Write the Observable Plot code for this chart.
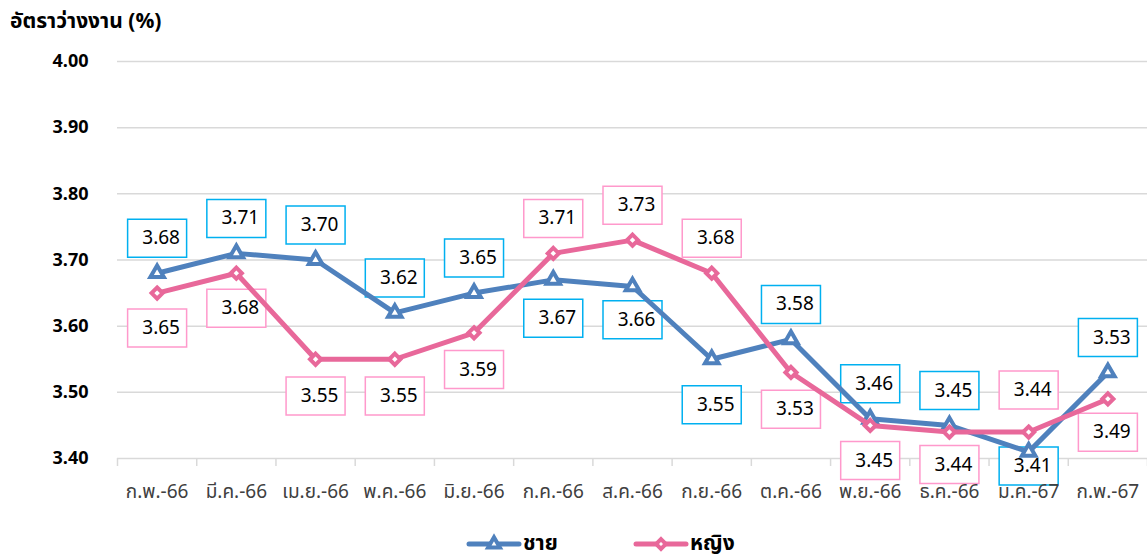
<!DOCTYPE html>
<html>
<head>
<meta charset="utf-8">
<script src="https://cdn.jsdelivr.net/npm/d3@7"></script>
<script src="https://cdn.jsdelivr.net/npm/@observablehq/plot@0.6"></script>
<style>
  body { margin: 0; background: #fff; font-family: Tahoma, "Noto Sans Thai", "DejaVu Sans", sans-serif; }
  #wrap { position: relative; width: 1147px; height: 558px; overflow: hidden; }
  #title { position: absolute; left: 10px; top: 6px; font-size: 21px; font-weight: bold; color: #000; }
  #chart { position: absolute; left: 0; top: 0; }
  #legend { position: absolute; top: 532px; left: 0; width: 1147px; height: 26px; font-weight: bold; font-size: 21px; line-height: 24px; color: #000; }
  .item { position: absolute; top: 0; display: flex; align-items: center; gap: 1px; }
</style>
</head>
<body>
<div id="wrap">
  <div id="chart"></div>
  <div id="title">อัตราว่างงาน (%)</div>
  <div id="legend"></div>
</div>
<script>
const months = ["ก.พ.-66","มี.ค.-66","เม.ย.-66","พ.ค.-66","มิ.ย.-66","ก.ค.-66","ส.ค.-66","ก.ย.-66","ต.ค.-66","พ.ย.-66","ธ.ค.-66","ม.ค.-67","ก.พ.-67"];
const male   = [3.68, 3.71, 3.70, 3.62, 3.65, 3.67, 3.66, 3.55, 3.58, 3.46, 3.45, 3.41, 3.53];
const female = [3.65, 3.68, 3.55, 3.55, 3.59, 3.71, 3.73, 3.68, 3.53, 3.45, 3.44, 3.44, 3.49];
// label placement relative to the point: positive = above, negative = below
const maleSide   = [1, 1, 1, 1, 1, -1.1, -0.95, -1.3, 1, 1, 1, -0.4, 1];
const femaleSide = [-1, -1, -1.05, -1.05, -1.05, 1, 1, 1, -1.05, -1, -0.93, 1.2, -0.95];
const yTicks = [3.4, 3.5, 3.6, 3.7, 3.8, 3.9, 4.0];
const seriesNames = ["ชาย", "หญิง"];

const blue = "#4F81BD", pink = "#E8689A";
const blueBox = "#00B0F0", pinkBox = "#FF99CC";

const mData = months.map((m, i) => ({i, month: m, v: male[i], side: maleSide[i]}));
const fData = months.map((m, i) => ({i, month: m, v: female[i], side: femaleSide[i]}));
const idx = months.map((m, i) => i);
const bounds = months.map((m, i) => i - 0.5).concat([months.length - 0.5]);

const box = {draw(ctx) { ctx.rect(-29.5, -19, 59, 38); }};
const off = 35;

function shift(data, sel) {
  return function(index, scales, values, dims, ctx, next) {
    const g = next(index, scales, values, dims, ctx);
    d3.select(g).selectAll(sel).each(function(_, k) {
      const d = data[index[k]];
      const t = d3.select(this).attr("transform") || "";
      d3.select(this).attr("transform", t + ` translate(0,${-d.side * off})`);
    });
    return g;
  };
}

function labelBoxes(data, color) {
  return Plot.dot(data, {x: "i", y: "v", symbol: box, r: 5, fill: "white", stroke: color, strokeWidth: 1.5,
    render: shift(data, "path")});
}
function labelTexts(data) {
  return Plot.text(data, {x: "i", y: "v", text: d => d.v.toFixed(2), fontSize: 19, fill: "#000",
    dx: 4, render: shift(data, "text")});
}

const chart = Plot.plot({
  width: 1147,
  height: 510,
  marginLeft: 117,
  marginRight: 0,
  marginTop: 61,
  marginBottom: 52,
  style: {fontFamily: 'Tahoma, "Noto Sans Thai", "DejaVu Sans", sans-serif', background: "transparent"},
  x: {type: "linear", domain: [-0.5, months.length - 0.5]},
  y: {domain: [3.4, 4.0]},
  marks: [
    Plot.ruleY(yTicks, {stroke: "#D9D9D9", strokeWidth: 1.5}),
    Plot.ruleX(bounds, {x: d => d, y1: 3.4, y2: 3.4, insetBottom: -8, stroke: "#D9D9D9", strokeWidth: 1.5}),
    Plot.axisY({ticks: yTicks, tickFormat: ".2f", tickSize: 0, tickPadding: 29, fontSize: 18, fontWeight: "bold", fill: "#000", label: null}),
    labelBoxes(mData, blueBox),
    labelBoxes(fData, pinkBox),
    Plot.axisX({ticks: idx, tickSize: 0, tickPadding: 26, tickFormat: i => months[i], fontSize: 19, fill: "#404040", label: null}),
    labelTexts(mData),
    labelTexts(fData),
    Plot.line(mData, {x: "i", y: "v", stroke: blue, strokeWidth: 5}),
    Plot.dot(mData, {x: "i", y: "v", symbol: "triangle", r: 5, fill: "white", stroke: blue, strokeWidth: 4}),
    Plot.line(fData, {x: "i", y: "v", stroke: pink, strokeWidth: 5}),
    Plot.dot(fData, {x: "i", y: "v", symbol: "diamond2", r: 5, fill: "white", stroke: pink, strokeWidth: 4})
  ]
});
document.getElementById("chart").appendChild(chart);

const legend = d3.select("#legend");
const defs = [
  {name: seriesNames[0], color: blue, sym: d3.symbolTriangle, left: 466},
  {name: seriesNames[1], color: pink, sym: d3.symbolDiamond2, left: 633}
];
for (const s of defs) {
  const it = legend.append("div").attr("class", "item").style("left", s.left + "px");
  const sv = it.append("svg").attr("width", 56).attr("height", 22);
  sv.append("line").attr("x1", 3).attr("x2", 53).attr("y1", 11).attr("y2", 11).attr("stroke", s.color).attr("stroke-width", 5).attr("stroke-linecap", "round");
  sv.append("path").attr("d", d3.symbol(s.sym, 60)()).attr("transform", "translate(28,11)").attr("fill", "white").attr("stroke", s.color).attr("stroke-width", 4);
  it.append("span").text(s.name);
}
</script>
</body>
</html>
